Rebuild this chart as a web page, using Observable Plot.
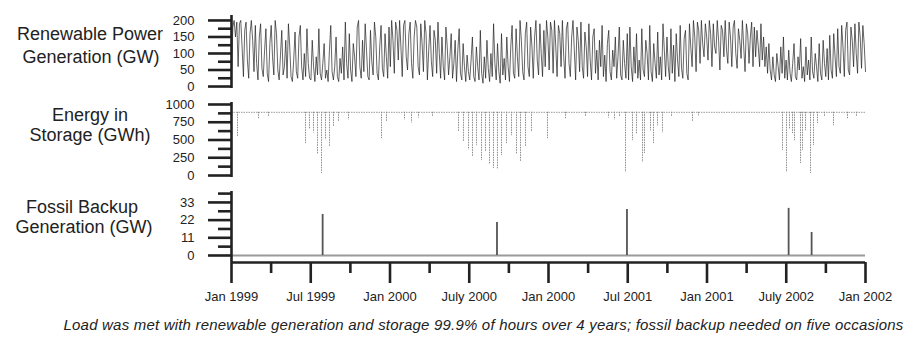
<!DOCTYPE html>
<html><head><meta charset="utf-8">
<script src="https://cdn.jsdelivr.net/npm/d3@7"></script>
<script src="https://cdn.jsdelivr.net/npm/@observablehq/plot@0.6"></script>
<style>
body{margin:0;background:#fff;}
#chart{position:relative;width:915px;height:343px;font-family:"Liberation Sans",Arial,sans-serif;color:#222;overflow:hidden;background:#fff}
.p{position:absolute;left:0}
.t{position:absolute;font-size:18px;text-align:center;white-space:nowrap;line-height:20px;height:20px}
.cap{position:absolute;left:0;width:967px;text-align:center;font-style:italic;font-size:15px;letter-spacing:0.2px;top:316px;white-space:nowrap}
</style></head><body><div id="chart"></div>
<script>
// ---- data ----
const xDomain = [0, 8]; // half-years from start
const xTicks = [0, 1, 2, 3, 4, 5, 6, 7, 8];
const xTickLabels = ["Jan 1999","Jul 1999","Jan 2000","July 2000","Jan 2000","Jul 2001","Jan 2001","July 2002","Jan 2002"];
const xMinorTicks = [0.5, 1.5, 2.5, 3.5, 4.5, 5.5, 6.5, 7.5];

const renewableTicks = [0, 50, 100, 150, 200];
const renewableMinor = [25, 75, 125, 175];
const renewableGW = [
 40,180,200,150,195,60,190,200,120,30, 170,195,80,25,160,200,140,45,185,70, 20,150,190,55,30,110,175,40,15,130, 185,90,35,200,160,50,20,95,170,35, 60,140,25,190,120,30,15,80,165,45, 25,150,185,60,20,100,30,175,70,25,
 20,140,60,15,90,35,175,40,20,70, 130,25,50,15,110,185,45,20,60,150, 30,15,85,40,120,20,195,70,25,160, 50,15,130,90,30,180,200,60,25,140, 45,190,110,30,20,170,75,35,195,150, 40,20,120,185,55,30,160,90,25,180,
 60,200,140,40,195,170,80,200,120,30, 185,200,90,50,160,195,70,25,150,200, 180,60,35,190,130,45,200,160,20,110, 185,75,30,170,140,40,195,100,25,150, 60,20,180,120,35,90,160,25,70,140, 15,110,175,40,20,130,60,15,95,45,
 20,80,150,30,15,120,60,20,170,40, 10,90,25,140,55,15,100,30,190,70, 20,130,45,10,160,35,85,20,150,60, 15,120,185,40,25,175,90,30,200,140, 45,20,160,195,60,30,180,120,25,150, 200,80,35,190,100,30,170,60,200,150,
 50,195,170,40,200,120,30,185,160,60, 200,90,25,175,195,70,30,150,200,110, 20,180,140,45,195,60,25,165,120,30, 190,80,20,150,175,40,110,20,140,60, 185,30,95,15,130,170,45,20,110,60, 150,25,90,180,35,20,140,70,25,160,
 20,180,60,15,120,40,160,25,80,20, 175,50,30,140,100,20,185,45,15,130, 70,25,165,35,90,20,190,110,30,150, 60,20,175,40,125,15,160,80,30,185, 55,25,145,170,40,20,190,120,60,200, 150,45,195,170,70,200,130,90,190,150,
 80,200,160,60,190,120,100,200,140,50, 185,170,90,200,110,70,195,150,60,180, 200,100,55,175,140,85,200,120,45,190, 160,70,150,195,60,180,90,170,120,60, 190,80,150,60,120,40,130,50,20,90, 35,15,100,60,20,120,40,150,25,80,
 20,110,40,15,70,130,30,20,90,50, 145,25,60,15,120,35,80,20,150,45, 25,100,60,15,130,40,20,140,70,30, 115,20,155,50,25,160,90,30,175,60, 40,185,120,30,170,195,50,35,180,140, 60,190,100,40,195,150,55,185,130,45
];

const storageTicks = [0, 250, 500, 750, 1000];
const storageMinor = [125, 375, 625, 875];
const storageFullGWh = 890;
const storageDipTimes = [0.076,0.341,0.467,0.934,0.984,1.035,1.085,1.136,1.186,1.237,1.287,1.350,1.476,1.893,1.956,2.183,2.271,2.360,2.536,
 2.864,2.927,2.991,3.041,3.091,3.155,3.205,3.256,3.306,3.356,3.407,3.470,3.533,3.596,3.647,3.710,3.785,3.987,4.215,4.467,
 4.757,4.833,4.896,4.972,5.060,5.110,5.186,5.211,5.287,5.325,5.375,5.438,5.552,5.817,5.893,
 6.953,7.003,7.041,7.079,7.104,7.180,7.205,7.243,7.306,7.344,7.394,7.483,7.596,7.773,7.886];
const storageDipGWh = [540,800,830,450,650,600,300,30,500,400,680,760,780,520,760,780,740,810,820,
 620,470,360,260,420,210,330,150,100,80,280,450,560,300,200,400,620,520,800,820,
 810,780,820,40,490,580,180,310,630,450,700,600,820,760,840,
 350,40,650,590,490,170,350,630,30,420,730,830,700,800,830];

const fossilTicks = [0, 11, 22, 33];
const fossilMinor = [5.5, 16.5, 27.5, 38.5];
const fossilTimes = [1.15, 3.35, 4.99, 7.03, 7.32];
const fossilGW = [25.5, 20.5, 28.6, 29.3, 14.3];

const titles = [
  ["Renewable Power", 90, 34], ["Generation (GW)", 91, 57],
  ["Energy in", 90, 115], ["Storage (GWh)", 90, 135],
  ["Fossil Backup", 82, 207], ["Generation (GW)", 84, 227]
];
const caption = "Load was met with renewable generation and storage 99.9% of hours over 4 years; fossil backup needed on five occasions";

// ---- drawing ----
const chart = document.getElementById("chart");
const common = {
  width: 915, marginLeft: 231, marginRight: 50,
  x: {domain: xDomain, axis: null},
  style: {fontSize: "13px", fontFamily: "'Liberation Sans', Arial, sans-serif", color: "#222", background: "transparent", overflow: "visible"}
};
const AX = 2.6;
function yAxes(major, minor) {
  return [
    Plot.axisY(major, {tickSize: 23, tickPadding: 14, strokeWidth: AX, label: null, tickFormat: d => String(d)}),
    Plot.axisY(minor, {tickSize: 13, strokeWidth: AX, label: null, tickFormat: () => ""})
  ];
}

const p1 = Plot.plot({
  ...common, height: 95, marginTop: 15, marginBottom: 7,
  y: {domain: [-6, 215], axis: null},
  marks: [
    Plot.lineY(renewableGW, {x: (d, i) => xDomain[0] + i * (xDomain[1] - xDomain[0]) / (renewableGW.length - 1), y: d => d,
      stroke: "#1a1a1a", strokeWidth: 0.8, strokeOpacity: 0.85}),
    ...yAxes(renewableTicks, renewableMinor),
    Plot.ruleX([xDomain[0]], {strokeWidth: AX})
  ]
});
const p2 = Plot.plot({
  ...common, height: 88, marginTop: 7, marginBottom: 6,
  y: {domain: [-28, 1028], axis: null},
  marks: [
    Plot.ruleY([storageFullGWh], {stroke: "#9a9a9a", strokeWidth: 1, strokeDasharray: "1.5,1"}),
    Plot.ruleX(storageDipTimes, {x: d => d, y1: storageFullGWh, y2: (d, i) => storageDipGWh[i],
      stroke: "#8a8a8a", strokeWidth: 1, strokeDasharray: "1.5,1"}),
    ...yAxes(storageTicks, storageMinor),
    Plot.ruleX([xDomain[0]], {strokeWidth: AX})
  ]
});
const fossilDomain = [-4.36, 39.8];
const p3 = Plot.plot({
  ...common, height: 130, marginTop: 8, marginBottom: 51,
  y: {domain: fossilDomain, axis: null},
  marks: [
    Plot.ruleY([0], {stroke: "#9a9a9a", strokeWidth: 2.2}),
    Plot.ruleX(fossilTimes, {x: d => d, y1: 0, y2: (d, i) => fossilGW[i], stroke: "#555", strokeWidth: 1.8}),
    ...yAxes(fossilTicks, fossilMinor),
    Plot.axisX(xTicks, {tickSize: 21, tickPadding: 8, strokeWidth: AX, label: null,
      tickFormat: d => xTickLabels[xTicks.indexOf(d)]}),
    Plot.axisX(xMinorTicks, {tickSize: 11, strokeWidth: AX, label: null, tickFormat: () => ""}),
    Plot.ruleX([xDomain[0]], {strokeWidth: AX}),
    Plot.ruleY([fossilDomain[0]], {strokeWidth: AX})
  ]
});

[[p1, 0], [p2, 95], [p3, 183]].forEach(([svg, top]) => {
  svg.classList.add("p");
  svg.style.top = top + "px";
  chart.appendChild(svg);
});
titles.forEach(([txt, cx, cy]) => {
  const d = document.createElement("div");
  d.className = "t";
  d.textContent = txt;
  d.style.left = (cx - 100) + "px";
  d.style.width = "200px";
  d.style.top = (cy - 10) + "px";
  chart.appendChild(d);
});
const c = document.createElement("div");
c.className = "cap";
c.textContent = caption;
chart.appendChild(c);
</script>
</body></html>
